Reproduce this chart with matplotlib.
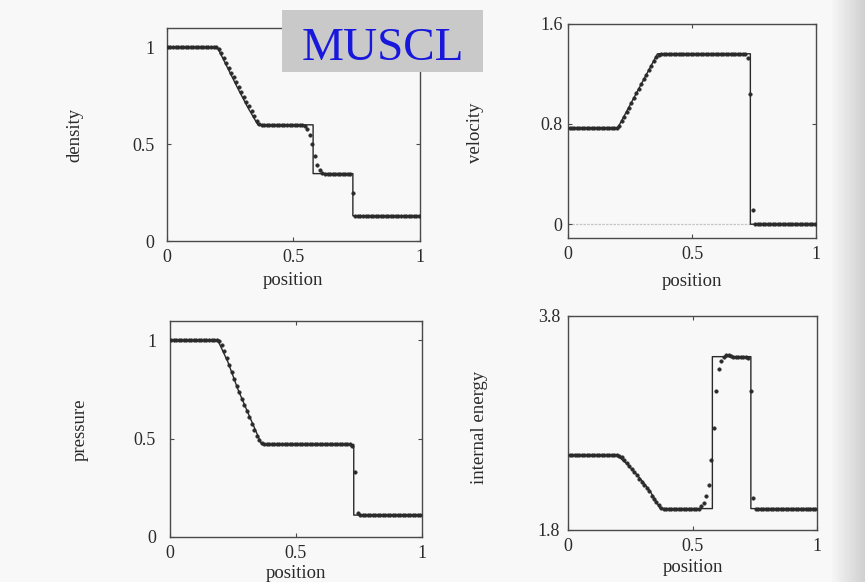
"""Shock tube test: MUSCL numerical solution (dots) against the exact solution (line)."""
import numpy as np
import matplotlib
matplotlib.use('Agg')
import matplotlib.pyplot as plt
from matplotlib.patches import Rectangle

# cell centres of the numerical grid (100 cells on [0, 1])
N_CELLS = 100
x_cells = (np.arange(N_CELLS) + 0.5) / N_CELLS

# ---- numerical values ----
density_num = ([1.0] * 20
               + [0.99, 0.97, 0.945, 0.92, 0.895, 0.87, 0.845, 0.82, 0.795,
                  0.77, 0.745, 0.72, 0.695, 0.67, 0.645, 0.62, 0.605, 0.598]
               + [0.6] * 16
               + [0.595, 0.58, 0.55, 0.5, 0.44, 0.39, 0.365, 0.352]
               + [0.348] * 11
               + [0.25]
               + [0.13] * 26)

velocity_num = ([0.77] * 20
                + [0.785, 0.82, 0.855, 0.895, 0.93, 0.97, 1.005, 1.045, 1.08,
                   1.12, 1.155, 1.19, 1.23, 1.265, 1.30, 1.335, 1.352]
                + [1.36] * 35
                + [1.33, 1.04, 0.11]
                + [0.0] * 25)

pressure_num = ([1.0] * 19
                + [0.995, 0.975, 0.945, 0.91, 0.875, 0.84, 0.805, 0.77, 0.735,
                   0.70, 0.67, 0.64, 0.61, 0.575, 0.545, 0.515, 0.49, 0.476]
                + [0.47] * 35
                + [0.46, 0.33, 0.12]
                + [0.11] * 25)

energy_num = ([2.5] * 20
              + [2.495, 2.48, 2.455, 2.43, 2.40, 2.37, 2.34, 2.31, 2.28,
                 2.25, 2.22, 2.19, 2.16, 2.12, 2.09, 2.06, 2.03, 2.01]
              + [2.0] * 15
              + [2.02, 2.05, 2.12, 2.22, 2.45, 2.75, 3.1, 3.3, 3.38, 3.42]
              + [3.44, 3.44, 3.43, 3.42, 3.42, 3.42, 3.42, 3.42, 3.42, 3.41]
              + [3.1, 2.1]
              + [2.0] * 25)

# ---- exact solution, as break points ----
density_x = [0.0, 0.2, 0.24, 0.28, 0.32, 0.36, 0.578, 0.578, 0.735, 0.735, 1.0]
density_y = [1.0, 1.0, 0.895, 0.79, 0.69, 0.6, 0.6, 0.348, 0.348, 0.13, 0.13]

velocity_x = [0.0, 0.2, 0.36, 0.735, 0.735, 1.0]
velocity_y = [0.77, 0.77, 1.36, 1.36, 0.0, 0.0]

pressure_x = [0.0, 0.19, 0.23, 0.27, 0.31, 0.364, 0.73, 0.73, 1.0]
pressure_y = [1.0, 1.0, 0.89, 0.75, 0.63, 0.47, 0.47, 0.11, 0.11]

energy_x = [0.0, 0.195, 0.24, 0.29, 0.33, 0.37, 0.58, 0.58, 0.735, 0.735, 1.0]
energy_y = [2.5, 2.5, 2.41, 2.28, 2.16, 2.0, 2.0, 3.42, 3.42, 2.0, 2.0]

x_ticks = [0, 0.5, 1]
x_tick_labels = ['0', '0.5', '1']

SERIF = ['Liberation Serif', 'DejaVu Serif']
INK = '#2a2a2a'
FRAME = '#4a4a4a'

W, H = 865, 582


def px_rect(left, top, right, bottom):
    """pixel box -> figure fraction [l, b, w, h]"""
    return [left / W, 1 - bottom / H, (right - left) / W, (bottom - top) / H]


PANELS = [
    # name, exact x/y, numeric, rect in px, ylim, yticks, ylabels, label pos, ytick pad, xlabel y
    ('density', density_x, density_y, density_num, (166.7, 28, 420, 241),
     (0, 1.1), [0, 0.5, 1], ['0', '0.5', '1'], (75, 135), 9, 280),
    ('velocity', velocity_x, velocity_y, velocity_num, (568.3, 23.7, 816, 238),
     (-0.11, 1.6), [0, 0.8, 1.6], ['0', '0.8', '1.6'], (476, 133), 4, 281),
    ('pressure', pressure_x, pressure_y, pressure_num, (170, 320.7, 421.7, 536.7),
     (0, 1.1), [0, 0.5, 1], ['0', '0.5', '1'], (80, 430), 10, 573),
    ('internal energy', energy_x, energy_y, energy_num, (568.3, 316, 816.7, 530),
     (1.8, 3.8), [1.8, 3.8], ['1.8', '3.8'], (480, 427), 6, 567),
]


def main() -> None:
    fig = plt.figure(figsize=(W / 100, H / 100), dpi=100)
    fig.patch.set_facecolor('#f8f8f7')

    # darker page edge at the right of the scan
    bg = fig.add_axes([0, 0, 1, 1], zorder=-10)
    ramp = np.clip((np.arange(W) - 830) / 35.0, 0, 1)
    shade = np.ones((2, W)) * (0.97 - 0.16 * ramp)
    bg.imshow(shade, cmap='gray', vmin=0, vmax=1, aspect='auto', extent=[0, 1, 0, 1])
    bg.axis('off')

    for (name, ex, ey, num, rect, ylim, yt, ytl, lab_pos, ypad, xlab_y) in PANELS:
        ax = fig.add_axes(px_rect(*rect))
        ax.set_facecolor('none')
        if name == 'velocity':
            ax.axhline(0, color='#c4c4c4', lw=0.9, ls=(0, (2, 1)), zorder=1)
        ax.plot(ex, ey, color=INK, lw=1.0, zorder=2)
        ax.plot(x_cells, num, ls='none', marker='o', ms=2.6, mfc=INK, mec=INK,
                mew=0.3, zorder=3)
        ax.set_xlim(0, 1)
        ax.set_ylim(*ylim)
        ax.set_xticks(x_ticks)
        ax.set_xticklabels(x_tick_labels, family=SERIF, fontsize=13, color=INK)
        ax.set_yticks(yt)
        ax.set_yticklabels(ytl, family=SERIF, fontsize=13, color=INK)
        ax.tick_params(axis='x', direction='in', length=3, width=0.8, pad=6,
                       top=True, color=FRAME)
        ax.tick_params(axis='y', direction='in', length=3, width=0.8, pad=ypad,
                       right=True, color=FRAME)
        for sp in ax.spines.values():
            sp.set_color(FRAME)
            sp.set_linewidth(1.0)

        cx = (rect[0] + rect[2]) / 2
        fig.text(cx / W, 1 - xlab_y / H, 'position', family=SERIF, fontsize=13.5,
                 color=INK, ha='center', va='center')
        fig.text(lab_pos[0] / W, 1 - lab_pos[1] / H, name, family=SERIF,
                 fontsize=13.5, color=INK, ha='center', va='center', rotation=90)

    # MUSCL label box
    box = Rectangle((282 / W, 1 - 72 / H), (483 - 282) / W, (72 - 10) / H,
                    transform=fig.transFigure, facecolor='#c9c9c9',
                    edgecolor='none', zorder=5)
    fig.add_artist(box)
    fig.text(383 / W, 1 - 60 / H, 'MUSCL', family=SERIF, fontsize=34,
             color='#1818dc', ha='center', va='baseline', zorder=6)

    fig.savefig('out.png', dpi=100, facecolor=fig.get_facecolor())
    plt.close(fig)


if __name__ == '__main__':
    main()
